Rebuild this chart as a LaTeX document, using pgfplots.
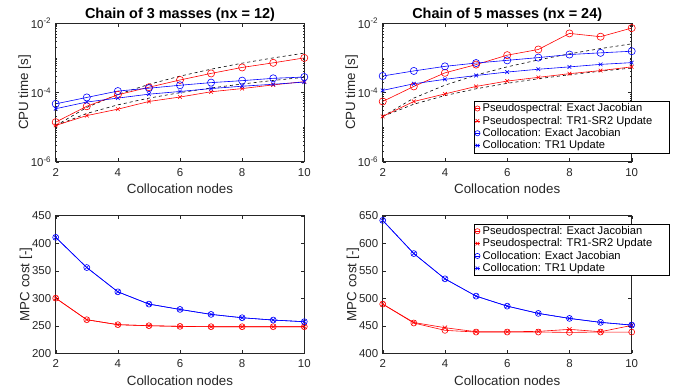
\documentclass[border=0pt]{standalone}
\usepackage{fontspec}
\setmainfont{Liberation Sans}
\usepackage{pgfplots}
\pgfplotsset{compat=1.18}
\definecolor{axgray}{rgb}{0.15,0.15,0.15}

\pgfplotsset{
  legend image code/.code={\draw[mark repeat=2,mark phase=2,mark size=2.6pt,#1] plot coordinates {(0cm,0cm) (0.1cm,0cm) (0.2cm,0cm)};},
}
\pgfplotsset{
  mybase/.style={
    scale only axis,
    xmin=2, xmax=10, xtick={2,4,6,8,10},
    tick align=inside,
    axis line style={axgray, line width=0.5pt},
    tick style={axgray, line width=0.4pt},
    major tick length=3.5pt,
    minor tick length=1.8pt,
    ticklabel style={font=\fontsize{11.5}{13}\selectfont, text=axgray},
    label style={font=\fontsize{13.4}{15}\selectfont, text=axgray},
    title style={font=\bfseries\fontsize{14.5}{16}\selectfont, yshift=-8pt},
    /pgf/number format/assume math mode=true,
    xlabel={Collocation nodes},
    xlabel style={yshift=-1pt},
    ylabel style={yshift=-7pt},
    xticklabel style={yshift=-3pt},
    yticklabel style={xshift=-1pt},
    every axis plot/.append style={line width=0.6pt},
    legend cell align=left,
    legend style={font=\fontsize{11.2}{12.5}\selectfont, draw=black, line width=0.5pt,
      inner sep=0.5pt, row sep=-1.2pt, fill=white},
  },
  psex/.style={red, mark=o, mark size=3.6pt},
  pstr/.style={red, mark=x, mark size=2.6pt},
  coex/.style={blue, mark=o, mark size=3.6pt},
  cotr/.style={blue, mark=x, mark size=2.6pt},
  refl/.style={black, dashed, line width=0.6pt, mark=none},
}

\begin{document}
\begin{tikzpicture}
\useasboundingbox (0,0) rectangle (683bp,387bp);

% ---------------- top left ----------------
\begin{axis}[mybase, ymode=log, ymin=1e-6, ymax=1e-2,
    ytick={1e-6,1e-4,1e-2},
    yticklabels={10\textsuperscript{-6},10\textsuperscript{-4},10\textsuperscript{-2}},
    minor ytick={2e-6,3e-6,4e-6,5e-6,6e-6,7e-6,8e-6,9e-6,1e-5,2e-5,3e-5,4e-5,5e-5,6e-5,7e-5,8e-5,9e-5,2e-4,3e-4,4e-4,5e-4,6e-4,7e-4,8e-4,9e-4,1e-3,2e-3,3e-3,4e-3,5e-3,6e-3,7e-3,8e-3,9e-3},
    ylabel={CPU time [s]},
  at={(55.7bp,225.3bp)}, anchor=south west,
  width=248.6bp, height=138.4bp,
  title={Chain of 3 masses (nx = 12)}]
\addplot[refl] coordinates {(2,1.1e-5)(3,3.71e-5)(4,8.8e-5)(5,1.72e-4)(6,2.97e-4)(7,4.72e-4)(8,7.04e-4)(9,1.0e-3)(10,1.375e-3)};
\addplot[refl] coordinates {(2,1.1e-5)(3,2.48e-5)(4,4.4e-5)(5,6.88e-5)(6,9.9e-5)(7,1.35e-4)(8,1.76e-4)(9,2.23e-4)(10,2.75e-4)};
\addplot[psex] coordinates {(2,1.39e-5)(3,4.0e-5)(4,8.6e-5)(5,1.42e-4)(6,2.3e-4)(7,3.56e-4)(8,5.3e-4)(9,7.2e-4)(10,1.0e-3)};
\addplot[pstr] coordinates {(2,1.12e-5)(3,2.15e-5)(4,3.3e-5)(5,5.5e-5)(6,7.4e-5)(7,1.05e-4)(8,1.3e-4)(9,1.66e-4)(10,2.06e-4)};
\addplot[coex] coordinates {(2,4.7e-5)(3,7.2e-5)(4,1.1e-4)(5,1.33e-4)(6,1.62e-4)(7,1.93e-4)(8,2.2e-4)(9,2.57e-4)(10,2.8e-4)};
\addplot[cotr] coordinates {(2,3.4e-5)(3,5.3e-5)(4,6.9e-5)(5,8.95e-5)(6,1.07e-4)(7,1.3e-4)(8,1.52e-4)(9,1.73e-4)(10,2.0e-4)};
\end{axis}

% ---------------- top right ----------------
\begin{axis}[mybase, ymode=log, ymin=1e-6, ymax=1e-2,
    ytick={1e-6,1e-4,1e-2},
    yticklabels={10\textsuperscript{-6},10\textsuperscript{-4},10\textsuperscript{-2}},
    minor ytick={2e-6,3e-6,4e-6,5e-6,6e-6,7e-6,8e-6,9e-6,1e-5,2e-5,3e-5,4e-5,5e-5,6e-5,7e-5,8e-5,9e-5,2e-4,3e-4,4e-4,5e-4,6e-4,7e-4,8e-4,9e-4,1e-3,2e-3,3e-3,4e-3,5e-3,6e-3,7e-3,8e-3,9e-3},
    ylabel={CPU time [s]},
  at={(382.7bp,225.3bp)}, anchor=south west,
  width=249bp, height=138.4bp,
  title={Chain of 5 masses (nx = 24)},
  legend style={at={(1.15,0.062)}, anchor=south east}]
\addplot[refl, forget plot] coordinates {(2,2.04e-5)(3,6.89e-5)(4,1.63e-4)(5,3.19e-4)(6,5.51e-4)(7,8.75e-4)(8,1.31e-3)(9,1.86e-3)(10,2.55e-3)};
\addplot[refl, forget plot] coordinates {(2,2.04e-5)(3,4.59e-5)(4,8.16e-5)(5,1.28e-4)(6,1.84e-4)(7,2.5e-4)(8,3.26e-4)(9,4.13e-4)(10,5.1e-4)};
\addplot[psex] coordinates {(2,5.5e-5)(3,1.5e-4)(4,3.7e-4)(5,6.4e-4)(6,1.2e-3)(7,1.75e-3)(8,5.1e-3)(9,4.1e-3)(10,7.3e-3)};
\addplot[pstr] coordinates {(2,2.04e-5)(3,5.5e-5)(4,9.1e-5)(5,1.5e-4)(6,2.14e-4)(7,2.74e-4)(8,3.5e-4)(9,4.3e-4)(10,5.5e-4)};
\addplot[coex] coordinates {(2,3.0e-4)(3,4.2e-4)(4,5.7e-4)(5,7.1e-4)(6,8.5e-4)(7,1.02e-3)(8,1.25e-3)(9,1.4e-3)(10,1.56e-3)};
\addplot[cotr] coordinates {(2,1.15e-4)(3,1.79e-4)(4,2.4e-4)(5,3.1e-4)(6,3.9e-4)(7,4.7e-4)(8,5.5e-4)(9,6.5e-4)(10,7.3e-4)};
\legend{Pseudospectral: Exact Jacobian, Pseudospectral: TR1-SR2 Update\hspace*{14bp}, Collocation: Exact Jacobian, Collocation: TR1 Update}
\end{axis}

% ---------------- bottom left ----------------
\begin{axis}[mybase, ylabel={MPC cost [-]}, at={(55.7bp,33.7bp)}, anchor=south west,
  width=248.6bp, height=137.6bp,
  ymin=200, ymax=450, ytick={200,250,300,350,400,450}]
\addplot[psex, mark size=3pt] coordinates {(2,300.2)(3,261)(4,252)(5,250.1)(6,248.9)(7,248.3)(8,248.3)(9,248.3)(10,248.3)};
\addplot[pstr, mark size=3pt] coordinates {(2,300.2)(3,261)(4,252)(5,250.1)(6,248.9)(7,248.3)(8,248.3)(9,248.3)(10,248.3)};
\addplot[coex, mark size=3pt] coordinates {(2,410.7)(3,355.8)(4,311.7)(5,289.4)(6,279.7)(7,270.7)(8,264.6)(9,260.4)(10,257.4)};
\addplot[cotr, mark size=3pt] coordinates {(2,410.7)(3,355.8)(4,311.7)(5,289.4)(6,279.7)(7,270.7)(8,264.6)(9,260.4)(10,257.4)};
\end{axis}

% ---------------- bottom right ----------------
\begin{axis}[mybase, ylabel={MPC cost [-]}, at={(382.7bp,33.7bp)}, anchor=south west,
  width=249bp, height=137.6bp,
  ymin=400, ymax=650, ytick={400,450,500,550,600,650},
  legend style={at={(1.15,0.942)}, anchor=north east}]
\addplot[psex, mark size=3pt] coordinates {(2,489.4)(3,455)(4,441.7)(5,438.6)(6,438.6)(7,438.6)(8,438)(9,438.6)(10,438.6)};
\addplot[pstr, mark size=3pt] coordinates {(2,489.4)(3,456)(4,446.5)(5,439.2)(6,439.2)(7,439.8)(8,443.5)(9,439.2)(10,450.7)};
\addplot[coex, mark size=3pt] coordinates {(2,641.5)(3,581.2)(4,535.3)(5,503.9)(6,485.7)(7,472.5)(8,463.4)(9,456.2)(10,451.3)};
\addplot[cotr, mark size=3pt] coordinates {(2,641.5)(3,581.2)(4,535.3)(5,503.9)(6,485.7)(7,472.5)(8,463.4)(9,456.2)(10,451.3)};
\legend{Pseudospectral: Exact Jacobian, Pseudospectral: TR1-SR2 Update\hspace*{14bp}, Collocation: Exact Jacobian, Collocation: TR1 Update}
\end{axis}
\end{tikzpicture}
\end{document}
